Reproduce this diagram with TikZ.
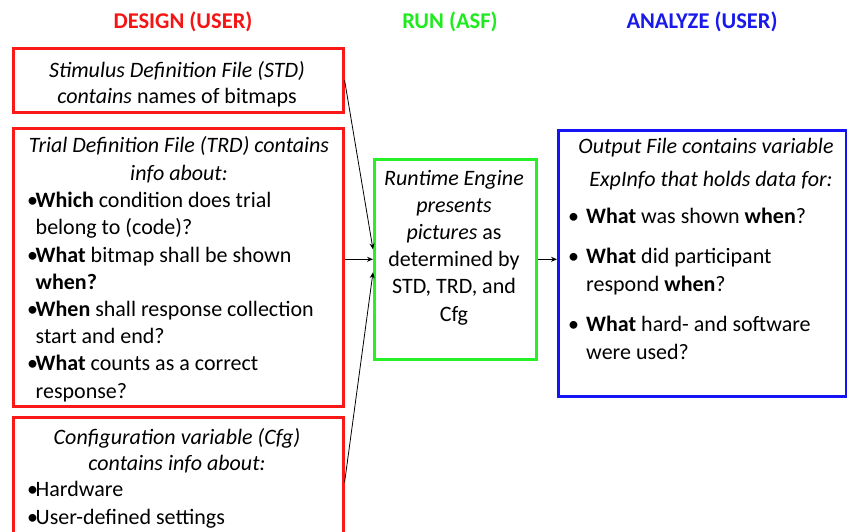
\documentclass[tikz,border=0pt]{standalone}
\usepackage{fontspec}
\setmainfont{Carlito}
\usetikzlibrary{arrows.meta}
\definecolor{designred}{RGB}{245,20,20}
\definecolor{rungreen}{RGB}{30,235,30}
\definecolor{analyzeblue}{RGB}{25,25,235}
\definecolor{boxred}{RGB}{250,25,25}
\definecolor{boxgreen}{RGB}{40,240,40}
\definecolor{boxblue}{RGB}{20,20,245}
\newcommand{\bul}{\makebox[8.5pt][l]{\textbullet}}
\newcommand{\wbul}{\makebox[18pt][l]{\textbullet}}
\begin{document}
\begin{tikzpicture}[x=1pt,y=-1pt,
  panel/.style={draw=#1, line width=2.6pt, anchor=north west, inner sep=0pt},
  body/.style={font=\fontsize{22}{27.2}\selectfont, inner sep=0pt},
  centred/.style={body, align=center, anchor=base},
  leftset/.style={body, align=left, anchor=base west},
  head/.style={font=\fontsize{22.5}{26}\selectfont\bfseries, inner sep=0pt, anchor=base},
  link/.style={-{Stealth[length=6pt,width=5pt]}, line width=0.8pt}]
\useasboundingbox (0,0) rectangle (847,531);
\clip (0,0) rectangle (847,531);

% column headings
\node[head, text=designred] (hdesign) at (183,28) {DESIGN (USER)};
\node[head, text=rungreen] (hrun) at (450,28) {RUN (ASF)};
\node[head, text=analyzeblue] (hanalyze) at (702,28) {ANALYZE (USER)};

% frames
\node[panel=boxred, minimum width=330pt, minimum height=64pt] (std) at (12,47) {};
\node[panel=boxred, minimum width=330pt, minimum height=278pt] (trd) at (12,127) {};
\node[panel=boxred, minimum width=330pt, minimum height=130pt] (cfg) at (12,416) {};
\node[panel=boxgreen, minimum width=162pt, minimum height=200pt] (run) at (373,158) {};
\node[panel=boxblue, minimum width=288pt, minimum height=266pt] (out) at (557,129) {};

% multi-line texts are placed by the baseline of their last line

% stimulus definition file
\node[centred, font=\fontsize{22}{26}\selectfont] (stdtext) at (177,103)
  {\itshape Stimulus Definition File (STD)\\ \textit{contains} names of bitmaps};

% trial definition file
\node[centred] (trdhead) at (179,180)
  {\itshape Trial Definition File (TRD) contains\\ \itshape info about:};
\node[leftset] (trdlist) at (27,398)
  {\bul\textbf{Which} condition does trial\\
   \hspace*{8.5pt}belong to (code)?\\
   \bul\textbf{What} bitmap shall be shown\\
   \hspace*{8.5pt}\textbf{when?}\\
   \bul\textbf{When} shall response collection\\
   \hspace*{8.5pt}start and end?\\
   \bul\textbf{What} counts as a correct\\
   \hspace*{8.5pt}response?};

% configuration variable
\node[centred, font=\fontsize{22}{26}\selectfont] (cfghead) at (177,470)
  {\itshape Configuration variable (Cfg)\\ \itshape contains info about:};
\node[leftset] (cfglist) at (27,524)
  {\bul Hardware\\ \bul User-defined settings};

% runtime engine
\node[centred] (runtext) at (454,321)
  {\itshape Runtime Engine\\ \itshape presents\\ \textit{pictures} as\\
   determined by\\ STD, TRD, and\\ Cfg};

% output file
\node[centred] (outhead) at (706,186)
  {\itshape Output File contains variable\\[5pt] \itshape\hspace*{10pt}ExpInfo that holds data for:};
\node[leftset] (outa) at (568,223) {\wbul\textbf{What} was shown \textbf{when}?};
\node[leftset] (outb) at (568,291) {\wbul\textbf{What} did participant\\
  \hspace*{18pt}respond \textbf{when}?};
\node[leftset] (outc) at (568,359) {\wbul\textbf{What} hard- and software\\
  \hspace*{18pt}were used?};

% connectors
\draw[link] (std.east) -- ([yshift=10pt]run.west);
\draw[link] (trd.east |- run.west) -- (run.west);
\draw[link] (cfg.east) -- ([yshift=-13pt]run.west);
\draw[link] (run.east) -- (out.west |- run.east);
\end{tikzpicture}
\end{document}
